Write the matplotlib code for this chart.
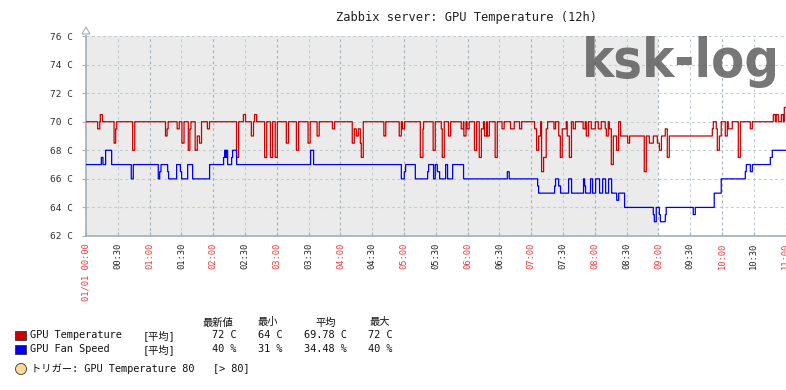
import numpy as np
import matplotlib
matplotlib.use("Agg")
import matplotlib.pyplot as plt
from matplotlib import font_manager
from matplotlib.patches import Polygon, Rectangle, Ellipse

W, H = 786, 390
X_MAX = 660.4  # minutes shown (00:00 .. ~11:00)

# GPU temperature: base level change points (minute, value)
temp_base_t = [0, 497.5, 500.6, 502.5, 504.3, 590.9, 591.8, 594.6, 597.5, 599.3,
               648.4, 650.3, 651.2, 653.1, 656.0, 657.8, 658.8]
temp_base_v = [70, 69, 68, 70, 69, 69.5, 70, 69.5, 69, 70,
               70.5, 70, 70.5, 70, 70.5, 70, 71]
# short excursions: (start minute, value, duration in minutes)
temp_dips = [
    (11, 69.5, 2), (13.5, 70.5, 2), (26.5, 68.5, 1.5), (28, 69.5, 1), (44, 68, 2),
    (75, 69, 1.5), (76.5, 69.5, 1), (86, 69.5, 2), (90.5, 68.5, 2), (96.5, 68, 2),
    (98, 69.5, 1), (103, 68, 2), (105, 69, 2), (107, 68.5, 2), (114.5, 69.5, 2),
    (142, 67.5, 2), (148.5, 70.5, 2), (156, 69, 2), (159, 70.5, 2), (168.5, 67.5, 2),
    (174, 67.5, 2), (178.5, 67.5, 2), (189, 68.5, 2), (198.5, 68, 2), (209.5, 68.5, 2),
    (218, 69, 2), (232.5, 69.5, 2),
    (251.2, 68.5, 1.9), (253.1, 69.5, 1.9), (255, 69, 1.9), (256.9, 69.5, 1.9),
    (258.8, 68.5, 0.9), (259.7, 67.5, 1.9),
    (281, 69, 1.8), (295.5, 69, 2), (298.5, 69.5, 2), (315.4, 67.5, 2.5), (317.9, 69.5, 0.6),
    (327.5, 68, 2), (335.2, 69.5, 0.9), (336.1, 67.5, 1.9), (342, 69, 2), (354, 69.5, 2),
    (356.5, 69, 2), (359.5, 69.5, 2), (366.5, 68, 2), (371, 67.5, 2), (373, 69.5, 2),
    (376, 69, 2), (378.5, 69, 2), (386, 67.5, 2), (392.5, 69.5, 2),
    (400.5, 69.5, 3.5), (409, 69.5, 2), (423.2, 69.5, 1.9), (425.1, 68, 1.9), (427, 69, 1.9),
    (429.8, 66.5, 1.9), (431.7, 67.5, 2.5), (434.2, 69.5, 1.3), (441.5, 69.5, 1.5),
    (446, 69, 1.5), (447.5, 67.5, 2), (449.3, 69.5, 3.8), (454, 69, 2), (456, 67.5, 2),
    (459.7, 69.5, 2), (469, 69.5, 2), (472, 69, 2), (476.7, 69.5, 3.8), (483.3, 69.5, 2.8),
    (489.9, 69.5, 1), (490.9, 69, 1.8), (493.7, 69.5, 2), (495.6, 67, 1.9),
    (511, 68.5, 1.8), (526.7, 66.5, 1.9), (531.4, 68.5, 3.8), (539, 68.5, 2), (541, 68, 1.9),
    (546.5, 69.5, 1.9), (548.4, 67.5, 1.9), (595.6, 68, 1.9), (603.1, 69, 1.9),
    (605.9, 69.5, 3.8), (615.4, 67.5, 1.9), (626.7, 69.5, 1.9),
]

# GPU fan speed change points (minute, value on the chart scale)
fan_t = [0, 14.5, 16, 18.5, 24.2, 42.7, 44.6, 68.2, 69.5, 70.7, 77, 77.9, 85.5, 89, 90.2,
         95.9, 100.6, 116.6, 129.8, 130.8, 131.8, 132.7, 133.6, 137.4, 138.3, 142.1,
         211.9, 214.7, 297.5, 300.3, 301.5, 310.7, 322.3, 323.2, 327.9, 329.5, 331.4,
         333.6, 339.3, 341.1, 345.9, 356.2, 397.5, 399.3, 426.1, 427, 442.1, 443, 445.9,
         447.7, 455.3, 458.1, 469.4, 470.4, 471.3, 476, 477.9, 480.8, 484.5, 487.4, 490.2,
         493, 495.9, 500.6, 502.5, 508.1, 535.2, 536.1, 538, 540.9, 541.8, 546.5, 547.4,
         572.9, 574.8, 592.7, 599.3, 622, 622.9, 626.7, 628.6, 645.6, 647.5]
fan_v = [67, 67.5, 67, 68, 67, 66, 67, 66, 66.5, 67, 66.5, 66, 67, 66.5, 66,
         67, 66, 67, 67.5, 68, 67.5, 68, 67, 67.5, 68, 67,
         68, 67, 66, 66.5, 67, 66, 66.5, 67, 66, 67, 66.5,
         66, 67, 66, 67, 66, 66.5, 66, 65.5, 65, 65.5, 66, 65.5,
         65, 66, 65, 66, 65.5, 65, 66, 65, 66, 65, 66, 65,
         66, 65, 64.5, 65, 64, 63.5, 63, 64, 63.5, 63, 63.5, 64,
         63.5, 64, 65, 66, 66.5, 67, 66.5, 67, 67.5, 68]

y_ticks = [62, 64, 66, 68, 70, 72, 74, 76]
x_tick_labels = ["01/01 00:00", "00:30", "01:00", "01:30", "02:00", "02:30", "03:00",
                 "03:30", "04:00", "04:30", "05:00", "05:30", "06:00", "06:30", "07:00",
                 "07:30", "08:00", "08:30", "09:00", "09:30", "10:00", "10:30", "11:00"]
work_end = 540  # shaded period ends at 09:00

legend_head = ["最新値", "最小", "平均", "最大"]
temp_stats = ["72 C", "64 C", "69.78 C", "72 C"]
fan_stats = ["40 %", "31 %", "34.48 %", "40 %"]

RED = "#cc0000"
BLUE = "#0000ee"
GRID = "#c3ccd3"
GRID_HOUR = "#a7b2bb"
AXIS = "#a5adb5"


def build(base_t, base_v, dips=()):
    t = np.round(np.arange(0, X_MAX + 0.1, 0.1), 1)
    v = np.asarray(base_v, float)[np.searchsorted(base_t, t, side="right") - 1]
    for start, val, dur in dips:
        v[(t >= start) & (t < start + dur)] = val
    return t, v


def narrow_bold_font():
    # look for a condensed / narrow bold face for the watermark
    for f in font_manager.fontManager.ttflist:
        tag = (f.name + " " + f.fname + " " + str(f.stretch)).lower()
        bold = f.weight in ("bold", 700, 800, 900, "heavy", "black") or "bold" in f.fname.lower()
        if bold and ("narrow" in tag or "condensed" in tag):
            return font_manager.FontProperties(fname=f.fname)
    return font_manager.FontProperties(family="DejaVu Sans", weight="bold")


plt.rcParams["font.family"] = ["DejaVu Sans Mono", "Noto Sans CJK JP"]

fig = plt.figure(figsize=(W / 100, H / 100), dpi=100)
fig.patch.set_facecolor("white")
ax = fig.add_axes([86 / W, (H - 236) / H, 700 / W, 200 / H])
ax.set_facecolor("white")
ax.set_xlim(0, X_MAX)
ax.set_ylim(62, 76)

ax.axvspan(0, work_end, color="#ebebeb", lw=0, zorder=0)

# grid
for i in range(1, len(x_tick_labels)):
    ax.axvline(i * 30, color=GRID_HOUR if i % 2 == 0 else GRID, lw=0.8,
               ls=(0, (2.5, 2.5)), zorder=1)
for yv in y_ticks[1:]:
    ax.axhline(yv, color=GRID, lw=0.8, ls=(0, (2.5, 2.5)), zorder=1)

t, v = build(temp_base_t, temp_base_v, temp_dips)
ax.plot(t, v, drawstyle="steps-post", color=RED, lw=0.9, zorder=3)
t, v = build(fan_t, fan_v)
ax.plot(t, v, drawstyle="steps-post", color=BLUE, lw=0.9, zorder=3)

# axes styling
for side in ["top", "right"]:
    ax.spines[side].set_visible(False)
for side in ["left", "bottom"]:
    ax.spines[side].set_color(AXIS)
    ax.spines[side].set_linewidth(1.2)

ax.set_yticks(y_ticks)
ax.set_yticklabels([f"{y} C" for y in y_ticks])
ax.tick_params(axis="y", direction="out", length=3, width=0.8, color=AXIS,
               pad=6, labelsize=6.8, labelcolor="#333333")

ax.set_xticks([i * 30 for i in range(len(x_tick_labels))])
ax.set_xticklabels(x_tick_labels, rotation=90, fontsize=6.3)
ax.tick_params(axis="x", direction="in", length=3, width=0.8, color=GRID_HOUR, pad=5)
for lab in ax.get_xticklabels():
    lab.set_color("#e83a3a" if lab.get_text().endswith(":00") else "#222222")
    lab.set_va("top")

# small arrow on top of y axis
fig.add_artist(Polygon([(82 / W, 1 - 34 / H), (86 / W, 1 - 27 / H), (90 / W, 1 - 34 / H)],
                       closed=True, fill=False, ec=AXIS, lw=0.8, transform=fig.transFigure))

fig.text(466 / W, 1 - 18 / H, "Zabbix server: GPU Temperature (12h)",
         ha="center", va="center", fontsize=8.7, color="#222222")

# watermark
wm = fig.text(582 / W, 1 - 77 / H, "ksk-log", fontproperties=narrow_bold_font(),
              color="#555555", alpha=0.8, ha="left", va="baseline", zorder=10)
wm.set_fontsize(40)
fig.canvas.draw()
bb = wm.get_window_extent()
wm.set_fontsize(40 * 198 / bb.width)

# legend
FS = 7.4
heads_x = [202, 258, 315, 370]
for hx, txt in zip(heads_x, legend_head):
    fig.text(hx / W, 1 - 322.5 / H, txt, ha="left", va="center", fontsize=FS, color="#111111")

vals_right = [237, 283, 347, 393]
rows = [("GPU Temperature", RED, temp_stats, 335.5), ("GPU Fan Speed", BLUE, fan_stats, 349.5)]
for name, col, stats, yy in rows:
    fig.add_artist(Rectangle((15 / W, 1 - (yy + 4.5) / H), 11 / W, 9.5 / H, fc=col,
                             ec="#333333", lw=0.6, transform=fig.transFigure))
    fig.text(30.5 / W, 1 - yy / H, name, ha="left", va="center", fontsize=FS, color="#111111")
    fig.text(143 / W, 1 - yy / H, "[平均]", ha="left", va="center", fontsize=FS, color="#111111")
    for rx, s in zip(vals_right, stats):
        fig.text(rx / W, 1 - yy / H, s, ha="right", va="center", fontsize=FS, color="#111111")

fig.add_artist(Ellipse((21 / W, 1 - 369 / H), 11 / W, 11 / H, fc="#ffd998", ec="#333333",
                       lw=0.6, transform=fig.transFigure))
fig.text(31.5 / W, 1 - 369 / H, "トリガー: GPU Temperature 80   [> 80]",
         ha="left", va="center", fontsize=FS, color="#111111")

fig.savefig("out.png", dpi=100)
